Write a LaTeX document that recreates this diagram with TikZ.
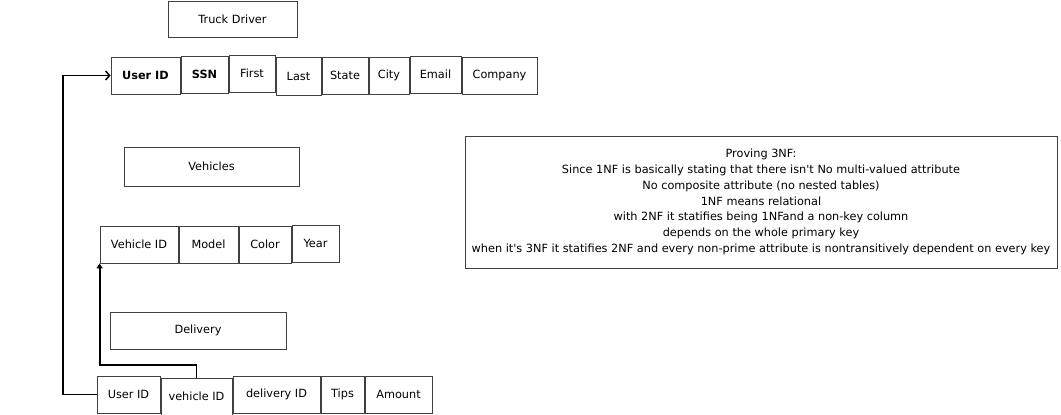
\documentclass[tikz,border=0pt]{standalone}
\usepackage{fontspec}
\setmainfont{DejaVu Sans}
\usetikzlibrary{arrows.meta}
\newcommand\mybox[6]{\node[box,minimum width={(#4-#2)*1pt},minimum height={(#5-#3)*1pt}] (#1) at ({(#2+#4)/2},{(#3+#5)/2}) {#6};}
\begin{document}
\begin{tikzpicture}[x=1pt,y=-1pt,
  box/.style={draw=black!75,line width=0.8pt,inner sep=0pt,font=\fontsize{11.3}{13}\selectfont},
  conn/.style={line width=1.8pt,black},
  note/.style={box,align=center,font=\fontsize{11.3}{15.8}\selectfont}]
\useasboundingbox[fill=white] (0,0) rectangle (1061,415);
% Truck Driver
\mybox{td}{168}{1}{297}{37}{Truck Driver}
\mybox{a1}{111}{57}{180}{94}{\textbf{User ID}}
\mybox{a2}{181}{56}{228}{93}{\textbf{SSN}}
\mybox{a3}{229}{55}{275}{92}{First}
\mybox{a4}{276}{57}{321}{95}{Last}
\mybox{a5}{322}{57}{368}{94}{State}
\mybox{a6}{369}{57}{409}{94}{City}
\mybox{a7}{410}{56}{461}{93}{Email}
\mybox{a8}{462}{57}{537}{94}{Company}
% Vehicles
\mybox{veh}{124}{147}{299}{186}{Vehicles}
\mybox{b1}{100}{226}{178}{263}{Vehicle ID}
\mybox{b2}{179}{226}{238}{263}{Model}
\mybox{b3}{239}{226}{291}{263}{Color}
\mybox{b4}{292}{225}{339}{262}{Year}
% Delivery
\mybox{del}{110}{312}{286}{349}{Delivery}
\mybox{c1}{97}{376}{160}{413}{User ID}
\mybox{c2}{161}{378}{232}{415}{vehicle ID}
\mybox{c3}{233}{376}{320}{413}{delivery ID}
\mybox{c4}{321}{376}{364}{413}{Tips}
\mybox{c5}{365}{376}{432}{413}{Amount}
% Note
\node[note,minimum width=592pt,minimum height=132pt] (nt) at (761,202) {\rule{0pt}{3pt}Proving 3NF:\\
Since 1NF is basically stating that there isn\textquotesingle t No multi-valued attribute\\
No composite attribute (no nested tables)\\
1NF means relational\\
with 2NF it statifies being 1NFand a non-key column\\
depends on the whole primary key\\
when it\textquotesingle s 3NF it statifies 2NF and every non-prime attribute is nontransitively dependent on every key};
% connectors
\draw[conn,-{Straight Barb[length=4pt,width=9pt,line width=1.5pt]}] (c1.west) -- ++(-34,0) |- (a1.west);
\draw[conn,-{Triangle[length=5pt,width=6pt]}] (c2.north) -- ++(0,-13) -| (b1.south west);
\end{tikzpicture}
\end{document}
